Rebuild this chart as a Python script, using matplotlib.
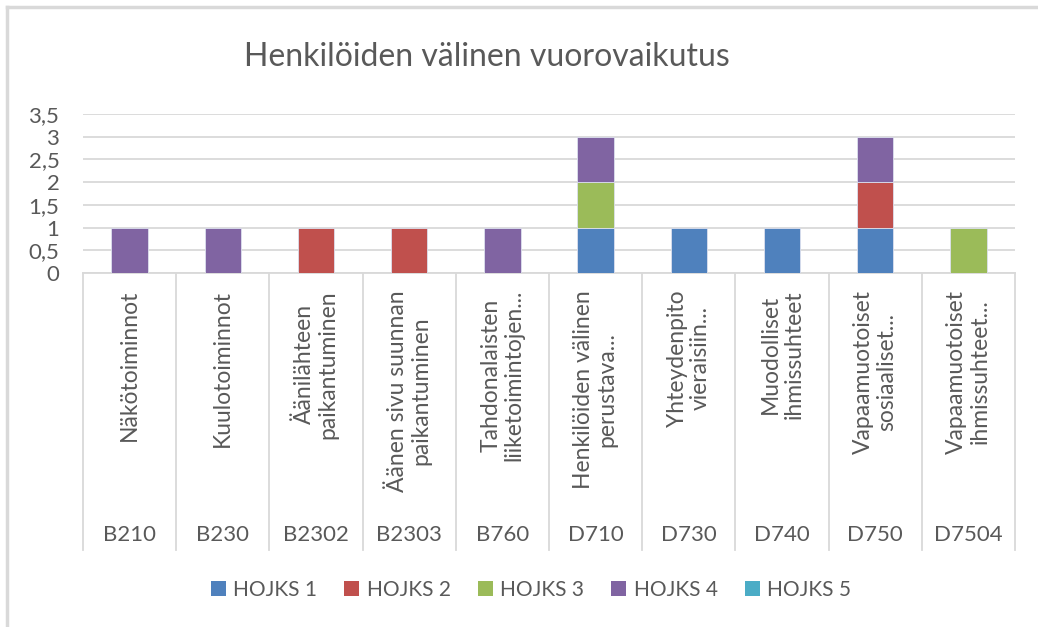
import matplotlib
matplotlib.use("Agg")
import matplotlib.pyplot as plt
import matplotlib.transforms as mtrans
from matplotlib.lines import Line2D
from matplotlib.patches import Patch
import numpy as np

plt.rcParams['font.family'] = ['Lato', 'DejaVu Sans']

title = "Henkilöiden välinen vuorovaikutus"
codes = ["B210", "B230", "B2302", "B2303", "B760", "D710", "D730", "D740", "D750", "D7504"]
names = ["Näkötoiminnot", "Kuulotoiminnot", "Äänilähteen\npaikantuminen",
         "Äänen sivu suunnan\npaikantuminen", "Tahdonalaisten\nliiketoimintojen...",
         "Henkilöiden välinen\nperustava...", "Yhteydenpito\nvieraisiin...",
         "Muodolliset\nihmissuhteet", "Vapaamuotoiset\nsosiaaliset...",
         "Vapaamuotoiset\nihmissuhteet..."]
series_names = ["HOJKS 1", "HOJKS 2", "HOJKS 3", "HOJKS 4", "HOJKS 5"]
hojks1 = [0, 0, 0, 0, 0, 1, 1, 1, 1, 0]
hojks2 = [0, 0, 1, 1, 0, 0, 0, 0, 1, 0]
hojks3 = [0, 0, 0, 0, 0, 1, 0, 0, 0, 1]
hojks4 = [1, 1, 0, 0, 1, 1, 0, 0, 1, 0]
hojks5 = [0, 0, 0, 0, 0, 0, 0, 0, 0, 0]
colors = ["#4F81BD", "#C0504D", "#9BBB59", "#8064A2", "#4BACC6"]
yticks = [0, 0.5, 1, 1.5, 2, 2.5, 3, 3.5]
ytick_labels = ["0", "0,5", "1", "1,5", "2", "2,5", "3", "3,5"]

W, H = 1038, 627
fig = plt.figure(figsize=(W / 100, H / 100), dpi=100)
fig.patch.set_facecolor("white")

x0, x1 = 83, 1015
ytop, ybot = 114, 273
ax = fig.add_axes([x0 / W, 1 - ybot / H, (x1 - x0) / W, (ybot - ytop) / H])

text_col = "#595959"
grid_col = "#D9D9D9"

x = np.arange(len(codes))
bottom = np.zeros(len(codes))
all_series = [hojks1, hojks2, hojks3, hojks4, hojks5]
for vals, c in zip(all_series, colors):
    v = np.array(vals, dtype=float)
    m = v > 0
    if m.any():
        ax.bar(x[m], v[m], width=0.39, bottom=bottom[m], color=c,
               edgecolor="#DCE0EE", linewidth=0.6, zorder=3)
    bottom += v

ax.set_xlim(-0.5, len(codes) - 0.5)
ax.set_ylim(0, 3.5)
ax.set_yticks(yticks)
ax.set_yticklabels(ytick_labels)
ax.tick_params(axis='y', length=0, pad=17, labelsize=16, labelcolor=text_col)
ax.set_xticks([])
ax.grid(axis='y', color=grid_col, linewidth=1.3, zorder=0)
for s in ax.spines.values():
    s.set_visible(False)
ax.axhline(0, color=grid_col, linewidth=1.3, zorder=2, clip_on=False)

# category separators
trans = mtrans.blended_transform_factory(ax.transData, ax.transAxes)
sep_bottom = -(550 - ybot) / (ybot - ytop)
for b in np.arange(len(codes) + 1) - 0.5:
    ax.add_line(Line2D([b, b], [0, sep_bottom], transform=trans, color=grid_col,
                       linewidth=1.3, clip_on=False))

name_top = -(290 - ybot) / (ybot - ytop)
code_y = -(535 - ybot) / (ybot - ytop)
for xi, nm, cd in zip(x, names, codes):
    ax.text(xi, name_top, nm, transform=trans, rotation=90, ha='center', va='top',
            multialignment='center', fontsize=16.5, color=text_col, linespacing=1.15)
    ax.text(xi, code_y, cd, transform=trans, ha='center', va='center',
            fontsize=16, color=text_col)

fig.text(487 / W, 1 - 57 / H, title, ha='center', va='center', fontsize=23, color=text_col)

handles = [Patch(facecolor=c, edgecolor='none', label=nm) for c, nm in zip(colors, series_names)]
leg = fig.legend(handles=handles, loc='center', bbox_to_anchor=(531 / W, 1 - 590 / H), ncol=5,
                 frameon=False, fontsize=15, handlelength=0.72, handleheight=0.72,
                 handletextpad=0.35, columnspacing=1.3)
for t in leg.get_texts():
    t.set_color(text_col)

# chart frame (left and top edges visible in reference)
fig.add_artist(Line2D([7 / W, 7 / W], [0, 1 - 7 / H], transform=fig.transFigure,
                      color="#D9D9D9", linewidth=2.5))
fig.add_artist(Line2D([7 / W, 1], [1 - 7 / H, 1 - 7 / H], transform=fig.transFigure,
                      color="#D9D9D9", linewidth=2.5))

fig.savefig("out.png", dpi=100, facecolor="white")
